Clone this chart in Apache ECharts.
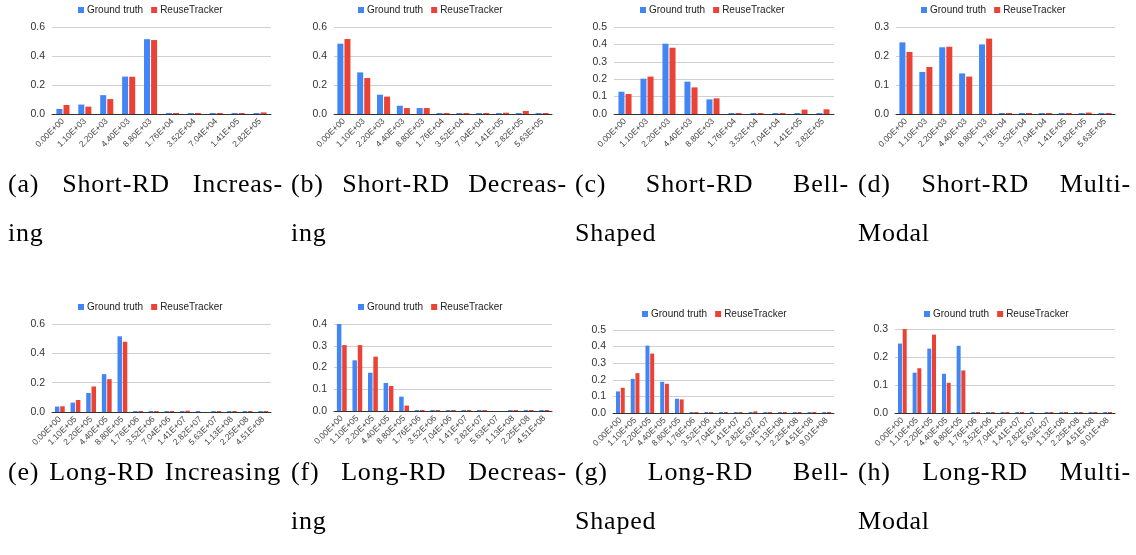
<!DOCTYPE html>
<html>
<head>
<meta charset="utf-8">
<script src="https://cdn.jsdelivr.net/npm/echarts@6/dist/echarts.min.js"></script>
<style>
  body { margin: 0; background: #fff; }
  #chart { position: absolute; left: 0; top: 0; width: 1136px; height: 555px; }
  .cap {
    position: absolute;
    font-family: "Liberation Serif", serif;
    font-size: 26px;
    line-height: 49px;
    letter-spacing: 0.8px;
    color: #000;
  }
  .l1 { text-align: justify; text-align-last: justify; }
</style>
</head>
<body>
<div id="chart"></div>

<div class="cap" style="left:8px;top:159px;width:275px"><div class="l1">(a) Short-RD Increas-</div><div>ing</div></div>
<div class="cap" style="left:291px;top:159px;width:276px"><div class="l1">(b) Short-RD Decreas-</div><div>ing</div></div>
<div class="cap" style="left:575px;top:159px;width:274px"><div class="l1">(c) Short-RD Bell-</div><div>Shaped</div></div>
<div class="cap" style="left:858px;top:159px;width:273px"><div class="l1">(d) Short-RD Multi-</div><div>Modal</div></div>
<div class="cap" style="left:8px;top:447px;width:273px"><div class="l1">(e) Long-RD Increasing</div></div>
<div class="cap" style="left:291px;top:447px;width:276px"><div class="l1">(f) Long-RD Decreas-</div><div>ing</div></div>
<div class="cap" style="left:575px;top:447px;width:274px"><div class="l1">(g) Long-RD Bell-</div><div>Shaped</div></div>
<div class="cap" style="left:858px;top:447px;width:273px"><div class="l1">(h) Long-RD Multi-</div><div>Modal</div></div>

<script>
// reuse-distance bins
const shortCats10 = ["0.00E+00", "1.10E+03", "2.20E+03", "4.40E+03", "8.80E+03", "1.76E+04", "3.52E+04", "7.04E+04", "1.41E+05", "2.82E+05"]
const shortCats11 = ["0.00E+00", "1.10E+03", "2.20E+03", "4.40E+03", "8.80E+03", "1.76E+04", "3.52E+04", "7.04E+04", "1.41E+05", "2.82E+05", "5.63E+05"]
const longCats14 = ["0.00E+00", "1.10E+05", "2.20E+05", "4.40E+05", "8.80E+05", "1.76E+06", "3.52E+06", "7.04E+06", "1.41E+07", "2.82E+07", "5.63E+07", "1.13E+08", "2.25E+08", "4.51E+08"]
const longCats15 = ["0.00E+00", "1.10E+05", "2.20E+05", "4.40E+05", "8.80E+05", "1.76E+06", "3.52E+06", "7.04E+06", "1.41E+07", "2.82E+07", "5.63E+07", "1.13E+08", "2.25E+08", "4.51E+08", "9.01E+08"]

const seriesNames = ["Ground truth", "ReuseTracker"]

// (a) Short-RD Increasing
const gtA = [0.035, 0.065, 0.13, 0.258, 0.516, 0, 0, 0, 0, 0]
const rtA = [0.062, 0.051, 0.103, 0.257, 0.51, 0, 0, 0, 0, 0.011]
// (b) Short-RD Decreasing
const gtB = [0.485, 0.287, 0.133, 0.057, 0.041, 0, 0, 0, 0, 0, 0]
const rtB = [0.517, 0.248, 0.12, 0.041, 0.041, 0, 0, 0, 0.009, 0.021, 0]
// (c) Short-RD Bell-Shaped
const gtC = [0.128, 0.203, 0.404, 0.186, 0.084, 0, 0, 0, 0, 0]
const rtC = [0.115, 0.215, 0.381, 0.153, 0.09, 0, 0, 0, 0.025, 0.027]
// (d) Short-RD Multi-Modal
const gtD = [0.247, 0.145, 0.23, 0.14, 0.24, 0, 0, 0, 0, 0, 0]
const rtD = [0.214, 0.162, 0.232, 0.129, 0.26, 0, 0, 0, 0, 0.005, 0]
// (e) Long-RD Increasing
const gtE = [0.037, 0.064, 0.13, 0.258, 0.516, 0, 0, 0, 0, 0, 0, 0, 0, 0]
const rtE = [0.039, 0.082, 0.174, 0.224, 0.479, 0, 0, 0, 0.009, null, 0, 0, 0, 0]
// (f) Long-RD Decreasing
const gtF = [0.4, 0.233, 0.176, 0.129, 0.066, 0, 0, 0, 0, 0, null, 0, 0, 0]
const rtF = [0.303, 0.303, 0.25, 0.115, 0.025, 0, 0, 0, 0, 0, null, 0, 0, 0]
// (g) Long-RD Bell-Shaped
const gtG = [0.13, 0.206, 0.406, 0.188, 0.086, 0, 0, 0, 0, 0, 0, 0, 0, 0, 0]
const rtG = [0.152, 0.24, 0.358, 0.176, 0.082, 0, 0, 0, 0, 0.01, 0, 0, 0, 0, 0]
// (h) Long-RD Multi-Modal
const gtH = [0.248, 0.144, 0.23, 0.14, 0.24, 0, 0, 0, 0, 0, 0, 0, 0, 0, 0]
const rtH = [0.3, 0.16, 0.28, 0.108, 0.152, 0, 0, 0, 0, null, 0, 0, 0, 0, 0]

const BLUE = "#4285f4"
const RED = "#ea4335"
const FONT = "Liberation Sans, Arial, sans-serif"

// layout of each small chart, in page pixels: grid [left, top, width, height], legend [left, top]
const panels = [
  { cats: shortCats10, gt: gtA, rt: rtA, max: 0.6, step: 0.2, grid: [52, 27, 219, 87], legend: [78, 5], bar: 6 },
  { cats: shortCats11, gt: gtB, rt: rtB, max: 0.6, step: 0.2, grid: [334, 27, 218, 87], legend: [358, 5], bar: 6 },
  { cats: shortCats10, gt: gtC, rt: rtC, max: 0.5, step: 0.1, grid: [614, 27, 220, 87], legend: [640, 5], bar: 6 },
  { cats: shortCats11, gt: gtD, rt: rtD, max: 0.3, step: 0.1, grid: [896, 27, 219, 87], legend: [921, 5], bar: 6 },
  { cats: longCats14, gt: gtE, rt: rtE, max: 0.6, step: 0.2, grid: [52, 324, 219, 88], legend: [78, 302], bar: 4.5 },
  { cats: longCats14, gt: gtF, rt: rtF, max: 0.4, step: 0.1, grid: [334, 324, 218, 87], legend: [358, 302], bar: 4.5 },
  { cats: longCats15, gt: gtG, rt: rtG, max: 0.5, step: 0.1, grid: [613, 330, 221, 83], legend: [642, 309], bar: 4 },
  { cats: longCats15, gt: gtH, rt: rtH, max: 0.3, step: 0.1, grid: [895, 329, 220, 84], legend: [924, 309], bar: 4 }
]

const grid = []
const xAxis = []
const yAxis = []
const legend = []
const series = []

panels.forEach((p, i) => {
  grid.push({ left: p.grid[0], top: p.grid[1], width: p.grid[2], height: p.grid[3], containLabel: false })
  legend.push({
    left: p.legend[0],
    top: p.legend[1],
    padding: 0,
    icon: "rect",
    itemWidth: 6,
    itemHeight: 6,
    itemGap: 8,
    textStyle: { fontFamily: FONT, fontSize: 10, color: "#222", padding: [0, 0, 0, -2] },
    data: seriesNames
  })
  xAxis.push({
    type: "category",
    gridIndex: i,
    data: p.cats,
    axisTick: { show: false },
    axisLine: { lineStyle: { color: "#333", width: 1 } },
    axisLabel: { rotate: 45, interval: 0, fontSize: 8.5, color: "#444", fontFamily: FONT, margin: 6 }
  })
  yAxis.push({
    type: "value",
    gridIndex: i,
    min: 0,
    max: p.max,
    interval: p.step,
    axisLine: { show: false },
    axisTick: { show: false },
    splitLine: { lineStyle: { color: "#d0d0d0", width: 1 } },
    axisLabel: { fontSize: 10.5, color: "#333", fontFamily: FONT, margin: 7, formatter: (v) => v.toFixed(1) }
  })
  ;[p.gt, p.rt].forEach((vals, k) => {
    series.push({
      type: "bar",
      name: seriesNames[k],
      xAxisIndex: i,
      yAxisIndex: i,
      data: vals,
      barWidth: p.bar,
      barGap: "18%",
      barMinHeight: 1,
      itemStyle: { color: k === 0 ? BLUE : RED },
      emphasis: { disabled: true }
    })
  })
})

const chart = echarts.init(document.getElementById("chart"), null, { renderer: "canvas" })
chart.setOption({
  animation: false,
  backgroundColor: "#fff",
  textStyle: { fontFamily: FONT },
  grid,
  xAxis,
  yAxis,
  legend,
  series
})
</script>
</body>
</html>
